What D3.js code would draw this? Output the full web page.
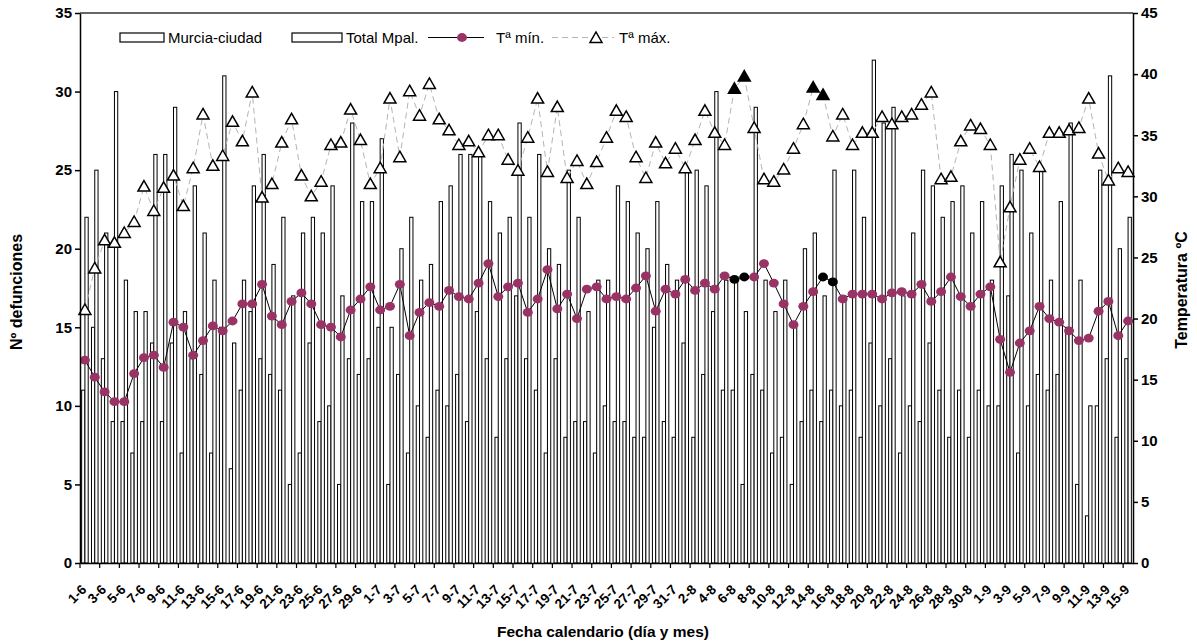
<!DOCTYPE html>
<html>
<head>
<meta charset="utf-8">
<style>
  body { margin: 0; background: #fff; font-family: "Liberation Sans", Arial, Helvetica, sans-serif; }
  svg { display: block; }
  .tick text { font-weight: bold; }
</style>
</head>
<body>
<svg id="chart"></svg>
<script src="https://cdn.jsdelivr.net/npm/d3@7"></script>
<script>
// fechas (día-mes), 1-6 a 15-9
var dates = ["1-6","2-6","3-6","4-6","5-6","6-6","7-6","8-6","9-6","10-6","11-6","12-6","13-6","14-6","15-6",
  "16-6","17-6","18-6","19-6","20-6","21-6","22-6","23-6","24-6","25-6","26-6","27-6","28-6","29-6","30-6",
  "1-7","2-7","3-7","4-7","5-7","6-7","7-7","8-7","9-7","10-7","11-7","12-7","13-7","14-7","15-7","16-7",
  "17-7","18-7","19-7","20-7","21-7","22-7","23-7","24-7","25-7","26-7","27-7","28-7","29-7","30-7","31-7",
  "1-8","2-8","3-8","4-8","5-8","6-8","7-8","8-8","9-8","10-8","11-8","12-8","13-8","14-8","15-8","16-8",
  "17-8","18-8","19-8","20-8","21-8","22-8","23-8","24-8","25-8","26-8","27-8","28-8","29-8","30-8","31-8",
  "1-9","2-9","3-9","4-9","5-9","6-9","7-9","8-9","9-9","10-9","11-9","12-9","13-9","14-9","15-9"];

// etiquetas del eje x (cada dos días)
var tickLabels = ["1-6","3-6","5-6","7-6","9-6","11-6","13-6","15-6","17-6","19-6","21-6","23-6","25-6","27-6","29-6",
  "1-7","3-7","5-7","7-7","9-7","11-7","13-7","15-7","17-7","19-7","21-7","23-7","25-7","27-7","29-7","31-7",
  "2-8","4-8","6-8","8-8","10-8","12-8","14-8","16-8","18-8","20-8","22-8","24-8","26-8","28-8","30-8",
  "1-9","3-9","5-9","7-9","9-9","11-9","13-9","15-9"];

// Nº defunciones
var murcia = [11,15,13,9,9,7,9,14,9,14, 7,13,12,7,15,6,11,16,13,12, 11,5,7,14,9,10,5,13,12,13,
  15,5,12,7,10,8,11,10,12,9, 16,13,8,13,17,13,11,7,13,8, 9,9,7,10,9,9,8,8,15,9,
  8,14,8,12,16,11,11,5,12,11, 7,8,5,9,11,9,11,10,11,8, 14,10,13,7,10,9,14,11,8,11,
  8,11,10,10,17,7,10,12,11,12, 15,5,3,10,13,8,13];
var totalMpal = [22,25,21,30,18,16,16,26,26,29, 16,24,21,18,31,14,18,24,26,19, 22,17,21,22,21,24,17,28,23,23,
  27,15,20,22,18,19,23,24,26,26, 26,23,21,22,28,22,26,20,19,25, 22,16,18,18,24,23,21,20,23,19,
  18,25,25,24,30,18,18,16,29,18, 16,18,15,20,21,17,25,17,25,22, 32,28,29,17,21,25,24,22,23,24,
  21,23,18,24,26,25,21,25,18,23, 28,18,10,25,31,20,22];

// Temperaturas ºC
var tMin = [16.6,15.2,14.0,13.2,13.2,15.5,16.8,17.0,16.0,19.7, 19.3,17.0,18.2,19.4,19.0,19.8,21.2,21.2,22.8,20.2,
  19.5,21.4,22.1,21.2,19.5,19.3,18.5,20.7,21.6,22.6, 20.7,21.0,22.8,18.6,20.5,21.3,21.0,22.3,21.8,21.6,
  22.9,24.5,21.8,22.6,22.9,20.5,21.6,24.0,20.8,22.0, 20.0,22.4,22.6,21.6,21.8,21.6,22.5,23.5,20.6,22.4,
  22.0,23.2,22.3,22.9,22.4,23.5,23.2,23.4,23.4,24.5, 22.9,21.2,19.5,21.0,22.2,23.4,23.0,21.6,22.0,22.0,
  22.0,21.6,22.1,22.2,22.0,22.8,21.4,22.2,23.4,21.8, 21.0,22.0,22.6,18.3,15.6,18.0,19.0,21.0,20.0,19.7,
  19.0,18.2,18.4,20.6,21.4,18.6,19.8];
var tMax = [20.7,24.1,26.4,26.2,27.0,27.9,30.8,28.8,30.7,31.7, 29.2,32.3,36.7,32.5,33.3,36.1,34.5,38.5,29.9,31.0,
  34.4,36.3,31.7,30.0,31.2,34.2,34.4,37.1,34.6,31.0, 32.3,38.0,33.2,38.6,36.6,39.2,36.3,35.4,34.2,34.5,
  33.6,35.0,35.0,33.0,32.1,34.8,38.0,32.0,37.3,31.5, 32.9,31.0,32.8,34.8,37.0,36.5,33.2,31.5,34.4,32.7,
  33.9,32.3,34.6,37.0,35.2,34.2,38.8,39.8,35.6,31.4, 31.2,32.2,33.9,35.9,38.9,38.3,34.9,36.7,34.2,35.2,
  35.2,36.5,35.9,36.5,36.7,37.5,38.5,31.4,31.6,34.5, 35.8,35.5,34.2,24.6,29.1,33.0,33.9,32.4,35.2,35.2,
  35.4,35.6,38.0,33.5,31.3,32.3,32.0];

// días destacados (marcadores negros)
var hotMax = ["6-8","7-8","14-8","15-8"];
var hotMin = ["6-8","7-8","15-8","16-8"];

var leftTicks = [0,5,10,15,20,25,30,35];
var rightTicks = [0,5,10,15,20,25,30,35,40,45];

var width = 1197, height = 643;
var margin = {top: 13, left: 80, right: 64, bottom: 80};
var svg = d3.select("#chart").attr("width", width).attr("height", height);

var x = d3.scaleBand().domain(dates).range([margin.left, width - margin.right]);
var xs = d3.scaleBand().domain(["m", "t"]).range([0, x.bandwidth()]).paddingOuter(0.5);
var yL = d3.scaleLinear().domain([0, 35]).range([height - margin.bottom, margin.top]);
var yR = d3.scaleLinear().domain([0, 45]).range([height - margin.bottom, margin.top]);

var rows = dates.map(function(d, i) {
  return {date: d, m: murcia[i], t: totalMpal[i], tmin: tMin[i], tmax: tMax[i]};
});

// barras
var bars = svg.append("g");
bars.selectAll("rect.m").data(rows).join("rect")
  .attr("x", function(d) { return x(d.date) + xs("m"); })
  .attr("y", function(d) { return yL(d.m); })
  .attr("width", xs.bandwidth())
  .attr("height", function(d) { return yL(0) - yL(d.m); })
  .attr("fill", "#fff").attr("stroke", "#000").attr("stroke-width", 1);
bars.selectAll("rect.t").data(rows).join("rect")
  .attr("x", function(d) { return x(d.date) + xs("t"); })
  .attr("y", function(d) { return yL(d.t); })
  .attr("width", xs.bandwidth())
  .attr("height", function(d) { return yL(0) - yL(d.t); })
  .attr("fill", "#fff").attr("stroke", "#000").attr("stroke-width", 1);

var cx = function(d) { return x(d.date) + x.bandwidth() / 2; };

// Tª máx
svg.append("path").datum(rows)
  .attr("fill", "none").attr("stroke", "#b4b4b4").attr("stroke-width", 1)
  .attr("stroke-dasharray", "6,4")
  .attr("d", d3.line().x(cx).y(function(d) { return yR(d.tmax); }));

// Tª mín
svg.append("path").datum(rows)
  .attr("fill", "none").attr("stroke", "#000").attr("stroke-width", 1)
  .attr("d", d3.line().x(cx).y(function(d) { return yR(d.tmin); }));

var tri = "M0,-6L6,4.5L-6,4.5Z";
svg.append("g").selectAll("path").data(rows).join("path")
  .attr("d", tri)
  .attr("transform", function(d) { return "translate(" + cx(d) + "," + yR(d.tmax) + ")"; })
  .attr("fill", function(d) { return hotMax.indexOf(d.date) >= 0 ? "#000" : "#fff"; })
  .attr("stroke", "#000").attr("stroke-width", 1.5);

svg.append("g").selectAll("ellipse").data(rows).join("ellipse")
  .attr("cx", cx).attr("cy", function(d) { return yR(d.tmin); })
  .attr("rx", 5).attr("ry", 4.4)
  .attr("fill", function(d) { return hotMin.indexOf(d.date) >= 0 ? "#000" : "#993366"; });

// ejes
var axL = svg.append("g").attr("transform", "translate(" + margin.left + ",0)")
  .call(d3.axisLeft(yL).tickValues(leftTicks).tickSize(5).tickSizeOuter(0));
var axR = svg.append("g").attr("transform", "translate(" + (width - margin.right) + ",0)")
  .call(d3.axisRight(yR).tickValues(rightTicks).tickSize(5).tickSizeOuter(0));
[axL, axR].forEach(function(a) {
  a.selectAll("text").attr("font-size", 15).attr("font-family", "Liberation Sans, Arial, sans-serif");
  a.selectAll("line, path").attr("stroke", "#000").attr("stroke-width", 1.5);
});

var axB = svg.append("g").attr("transform", "translate(0," + yL(0) + ")")
  .call(d3.axisBottom(x).tickValues(tickLabels).tickSize(0).tickSizeOuter(0));
axB.select(".domain").attr("stroke", "#000").attr("stroke-width", 1.5);
axB.selectAll(".tick text")
  .attr("font-size", 13.5).attr("font-family", "Liberation Sans, Arial, sans-serif")
  .attr("text-anchor", "end")
  .attr("transform", "translate(-1,24) rotate(-45)")
  .attr("dy", "0.35em").attr("y", 0).attr("x", 0);
axB.selectAll(".tick").append("line")
  .attr("x1", -x.bandwidth() / 2).attr("x2", -x.bandwidth() / 2)
  .attr("y1", 0).attr("y2", 5).attr("stroke", "#000").attr("stroke-width", 1.2);

// borde superior
svg.append("line")
  .attr("x1", margin.left).attr("x2", width - margin.right)
  .attr("y1", margin.top).attr("y2", margin.top)
  .attr("stroke", "#333").attr("stroke-width", 1.5);

// títulos
svg.append("text").attr("x", 603).attr("y", 637).attr("text-anchor", "middle")
  .attr("font-weight", "bold").attr("font-size", 15.5).text("Fecha calendario (día y mes)");
svg.append("text").attr("transform", "translate(22,292) rotate(-90)").attr("text-anchor", "middle")
  .attr("font-weight", "bold").attr("font-size", 16).text("Nº defunciones");
svg.append("text").attr("transform", "translate(1187,290) rotate(-90)").attr("text-anchor", "middle")
  .attr("font-weight", "bold").attr("font-size", 16).text("Temperatura ºC");

// leyenda
var lg = svg.append("g").attr("font-size", 15);
lg.append("rect").attr("x", 120).attr("y", 33).attr("width", 44).attr("height", 9)
  .attr("fill", "#fff").attr("stroke", "#000").attr("stroke-width", 1.2);
lg.append("text").attr("x", 168).attr("y", 43).text("Murcia-ciudad");
lg.append("rect").attr("x", 292).attr("y", 33).attr("width", 50).attr("height", 9)
  .attr("fill", "#fff").attr("stroke", "#000").attr("stroke-width", 1.2);
lg.append("text").attr("x", 346).attr("y", 43).text("Total Mpal.");
lg.append("line").attr("x1", 428).attr("x2", 484).attr("y1", 37.5).attr("y2", 37.5)
  .attr("stroke", "#000").attr("stroke-width", 1);
lg.append("ellipse").attr("cx", 462).attr("cy", 37.5).attr("rx", 5).attr("ry", 4.4).attr("fill", "#993366");
lg.append("text").attr("x", 496).attr("y", 43).text("Tª mín.");
lg.append("line").attr("x1", 552).attr("x2", 614).attr("y1", 37.5).attr("y2", 37.5)
  .attr("stroke", "#b4b4b4").attr("stroke-width", 1).attr("stroke-dasharray", "6,4");
lg.append("path").attr("d", tri).attr("transform", "translate(596,38)")
  .attr("fill", "#fff").attr("stroke", "#000").attr("stroke-width", 1.5);
lg.append("text").attr("x", 619).attr("y", 43).text("Tª máx.");
</script>
</body>
</html>
